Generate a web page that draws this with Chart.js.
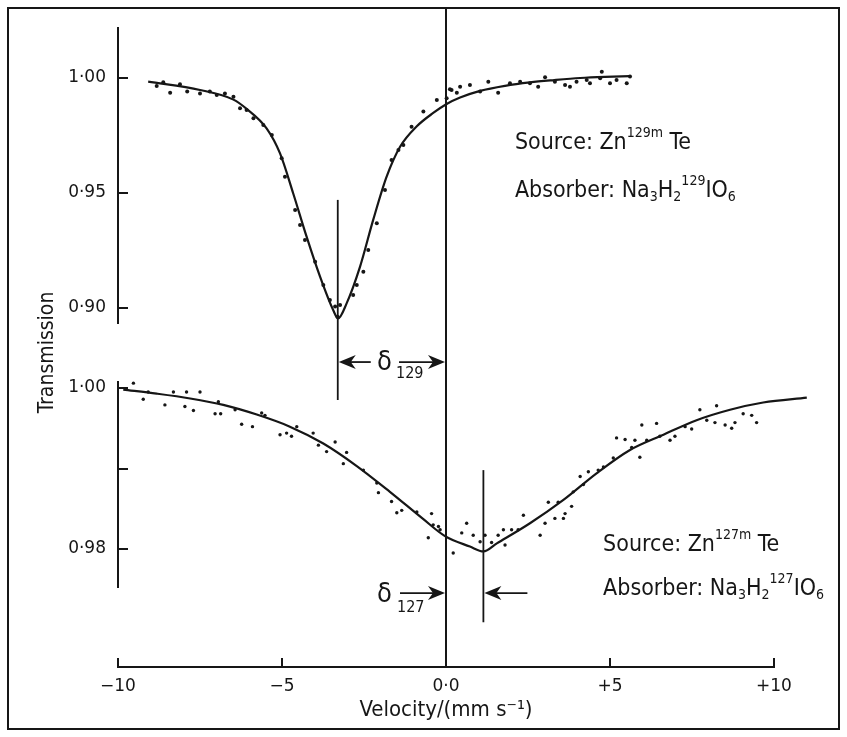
<!DOCTYPE html>
<html>
<head>
<meta charset="utf-8">
<script src="https://cdn.jsdelivr.net/npm/chart.js@4.4.0/dist/chart.umd.min.js"></script>
<style>
  html, body { margin: 0; padding: 0; background: #fff; }
  #wrap { width: 847px; height: 737px; }
</style>
</head>
<body>
<div id="wrap"><canvas id="moss" width="847" height="737"></canvas></div>
<script>
// axis ticks
const velocityTicks = [-10, -5, 0, 5, 10];
const velocityLabels = ['\u221210', '\u22125', '0\u00b70', '+5', '+10'];
const topTicks = [1.00, 0.95, 0.90];
const topTickLabels = ['1\u00b700', '0\u00b795', '0\u00b790'];
const lowTicks = [1.00, 0.99, 0.98];
const lowTickLabels = ['1\u00b700', '', '0\u00b798'];

// 129I spectrum: fitted curve
const topFitV = [-9.08, -7.50, -6.48, -6.08, -5.47, -5.06, -4.66, -4.25, -3.84, -3.44, -3.29, -3.03, -2.62, -2.22, -1.81, -1.40, -0.89, -0.39, 0.02, 0.43, 1.04, 1.80, 2.56, 3.30, 4.09, 4.85, 5.60];
const topFitT = [0.9984, 0.9948, 0.9906, 0.9866, 0.9781, 0.9672, 0.9499, 0.9310, 0.9136, 0.8991, 0.8955, 0.9020, 0.9180, 0.9383, 0.9571, 0.9701, 0.9790, 0.9848, 0.9887, 0.9915, 0.9944, 0.9966, 0.9981, 0.9991, 1.0000, 1.0005, 1.0008];
// 129I spectrum: measured points
const topDotV = [-8.82, -8.62, -8.41, -8.11, -7.89, -7.50, -7.20, -6.99, -6.74, -6.48, -6.28, -6.08, -5.87, -5.57, -5.31, -5.01, -4.91, -4.60, -4.45, -4.30, -3.99, -3.74, -3.54, -3.38, -3.23, -3.31, -2.83, -2.72, -2.52, -2.37, -2.11, -1.86, -1.66, -1.45, -1.30, -1.05, -0.69, -0.28, 0.02, 0.17, 0.33, 0.12, 0.43, 0.73, 1.04, 1.29, 1.59, 1.95, 2.26, 2.56, 2.81, 3.02, 3.32, 3.63, 3.78, 3.98, 4.29, 4.39, 4.70, 4.75, 5.00, 5.20, 5.51, 5.61];
const topDotT = [0.9965, 0.9981, 0.9936, 0.9973, 0.9941, 0.9933, 0.9941, 0.9926, 0.9933, 0.9919, 0.9868, 0.9861, 0.9825, 0.9796, 0.9752, 0.9651, 0.9571, 0.9426, 0.9361, 0.9296, 0.9201, 0.9100, 0.9035, 0.9006, 0.9013, 0.8962, 0.9057, 0.9100, 0.9158, 0.9252, 0.9368, 0.9513, 0.9643, 0.9687, 0.9709, 0.9788, 0.9854, 0.9904, 0.9912, 0.9948, 0.9936, 0.9951, 0.9962, 0.9970, 0.9941, 0.9984, 0.9936, 0.9977, 0.9984, 0.9977, 0.9962, 1.0003, 0.9984, 0.9970, 0.9962, 0.9984, 0.9991, 0.9977, 0.9999, 1.0027, 0.9977, 0.9991, 0.9977, 1.0006];

// 127I spectrum: fitted curve
const lowFitV = [-9.84, -8.82, -7.80, -6.79, -5.77, -4.76, -3.74, -2.72, -1.71, -0.69, -0.03, 0.73, 1.14, 1.55, 2.56, 3.58, 4.59, 5.61, 6.63, 7.64, 8.66, 9.67, 11.0];
const lowFitT = [0.9998, 0.9993, 0.9987, 0.9979, 0.9967, 0.9952, 0.9931, 0.9903, 0.9871, 0.9837, 0.9816, 0.9803, 0.9797, 0.9807, 0.9832, 0.9861, 0.9894, 0.9923, 0.9942, 0.9960, 0.9973, 0.9982, 0.9988];
// 127I spectrum: measured points
const lowDotV = [-9.53, -9.23, -9.08, -8.57, -8.31, -7.91, -7.96, -7.70, -7.50, -6.94, -7.04, -6.87, -6.43, -6.23, -5.90, -5.62, -5.52, -5.06, -4.86, -4.71, -4.55, -4.05, -3.89, -3.64, -3.38, -3.13, -3.03, -2.52, -2.11, -2.06, -1.66, -1.50, -1.35, -0.89, -0.54, -0.44, -0.23, 0.22, 0.48, 0.63, -0.39, -0.18, 0.83, 1.04, 1.19, 1.39, 1.59, 1.80, 1.75, 2.00, 2.20, 2.36, 2.87, 3.02, 3.12, 3.32, 3.42, 3.58, 3.63, 3.83, 3.88, 4.09, 4.19, 4.34, 4.64, 4.80, 5.10, 5.20, 5.46, 5.66, 5.76, 5.91, 5.97, 6.12, 6.42, 6.52, 6.83, 6.98, 7.29, 7.49, 7.74, 7.95, 8.25, 8.20, 8.51, 8.71, 8.81, 9.06, 9.32, 9.47];
const lowDotT = [1.0006, 0.9986, 0.9995, 0.9979, 0.9995, 0.9995, 0.9977, 0.9972, 0.9995, 0.9983, 0.9968, 0.9968, 0.9973, 0.9955, 0.9952, 0.9969, 0.9966, 0.9942, 0.9944, 0.9940, 0.9952, 0.9944, 0.9929, 0.9921, 0.9933, 0.9906, 0.9920, 0.9898, 0.9882, 0.9870, 0.9859, 0.9845, 0.9848, 0.9846, 0.9814, 0.9844, 0.9828, 0.9795, 0.9820, 0.9832, 0.9830, 0.9824, 0.9817, 0.9809, 0.9817, 0.9808, 0.9817, 0.9805, 0.9824, 0.9824, 0.9824, 0.9842, 0.9817, 0.9832, 0.9858, 0.9838, 0.9858, 0.9838, 0.9844, 0.9853, 0.9871, 0.9890, 0.9880, 0.9896, 0.9898, 0.9902, 0.9913, 0.9938, 0.9936, 0.9926, 0.9935, 0.9914, 0.9954, 0.9935, 0.9956, 0.9940, 0.9935, 0.9940, 0.9952, 0.9949, 0.9973, 0.9960, 0.9978, 0.9957, 0.9954, 0.9950, 0.9957, 0.9968, 0.9966, 0.9957];

// line positions of the two absorption minima (δ129, δ127)
const shiftV = [-3.30, 1.14];

const ink = '#161616';
const textFamily = "'Liberation Sans Narrow', 'DejaVu Sans Condensed', 'Liberation Sans', sans-serif";
const tickFont = { family: "'DejaVu Sans', sans-serif", size: 17 };

function pts(xs, ys) {
  return xs.map((x, i) => ({ x: x, y: ys[i] }));
}

function fixWidth(s) {
  s.width = 118;
  s.paddingTop = 0;
  s.paddingBottom = 0;
}

function gapAxis(weight, sw, title) {
  return {
    type: 'linear', position: 'left', stack: 'v', stackWeight: sw, weight: weight,
    min: 0, max: 1,
    afterFit: fixWidth,
    grid: { display: false },
    border: { display: false },
    ticks: { display: false },
    title: title ? {
      display: true, text: title, color: ink,
      font: { family: textFamily, size: 21 },
      padding: { top: 35, bottom: 0 }
    } : { display: false }
  };
}

function valueAxis(weight, sw, min, max, ticks, labels) {
  return {
    type: 'linear', position: 'left', stack: 'v', stackWeight: sw, weight: weight,
    min: min, max: max,
    afterBuildTicks: s => { s.ticks = ticks.map(v => ({ value: v })); },
    afterFit: fixWidth,
    grid: { drawOnChartArea: false, drawTicks: true, tickLength: -10, color: ink, lineWidth: 2 },
    border: { display: true, color: ink, width: 2 },
    ticks: { padding: 22, color: ink, font: tickFont, callback: (v, i) => labels[i] }
  };
}

function drawRich(ctx, x, y, parts, size) {
  let cx = x;
  parts.forEach(([t, k]) => {
    const s = k === 'n' ? size : 14;
    const dy = k === 'sup' ? -12 : (k === 'sub' ? 4 : 0);
    ctx.font = s + 'px ' + textFamily;
    ctx.fillText(t, cx, y + dy);
    cx += ctx.measureText(t).width;
  });
}

function arrowHead(ctx, tipX, y, dir) {
  ctx.beginPath();
  ctx.moveTo(tipX, y);
  ctx.lineTo(tipX - dir * 17, y - 7);
  ctx.lineTo(tipX - dir * 12, y);
  ctx.lineTo(tipX - dir * 17, y + 7);
  ctx.closePath();
  ctx.fill();
}

function hLine(ctx, x1, x2, y) {
  ctx.beginPath();
  ctx.moveTo(x1, y);
  ctx.lineTo(x2, y);
  ctx.stroke();
}

function vLine(ctx, x, y1, y2) {
  ctx.beginPath();
  ctx.moveTo(x, y1);
  ctx.lineTo(x, y2);
  ctx.stroke();
}

const extras = {
  id: 'extras',
  afterDraw(chart) {
    const ctx = chart.ctx;
    const xs = chart.scales.x, yt = chart.scales.yTop, yb = chart.scales.yBot;
    const zero = xs.getPixelForValue(0);
    const x129 = xs.getPixelForValue(shiftV[0]);
    const x127 = xs.getPixelForValue(shiftV[1]);
    ctx.save();
    ctx.strokeStyle = ink;
    ctx.fillStyle = ink;
    ctx.lineWidth = 1.8;

    // minimum markers
    vLine(ctx, x129, yt.getPixelForValue(0.947), yt.getPixelForValue(0.860));
    vLine(ctx, x127, yb.getPixelForValue(0.9898), yb.getPixelForValue(0.9709));

    // δ129 arrows
    const a1 = yt.getPixelForValue(0.8765);
    arrowHead(ctx, x129 + 1, a1, -1);
    hLine(ctx, x129 + 12, x129 + 33, a1);
    hLine(ctx, zero - 47, zero - 12, a1);
    arrowHead(ctx, zero - 1, a1, 1);
    ctx.textAlign = 'left';
    ctx.textBaseline = 'alphabetic';
    ctx.font = '27px ' + textFamily;
    ctx.fillText('\u03b4', zero - 69, a1 + 8);
    ctx.font = '16px ' + textFamily;
    ctx.fillText('129', zero - 50, a1 + 16);

    // δ127 arrows
    const a2 = yb.getPixelForValue(0.97453);
    hLine(ctx, zero - 46, zero - 12, a2);
    arrowHead(ctx, zero - 1, a2, 1);
    arrowHead(ctx, x127 + 1, a2, -1);
    hLine(ctx, x127 + 12, x127 + 44, a2);
    ctx.font = '27px ' + textFamily;
    ctx.fillText('\u03b4', zero - 69, a2 + 9);
    ctx.font = '16px ' + textFamily;
    ctx.fillText('127', zero - 49, a2 + 19);

    // source / absorber captions
    const tx1 = xs.getPixelForValue(2.10);
    drawRich(ctx, tx1, yt.getPixelForValue(0.9691),
      [['Source: Zn', 'n'], ['129m', 'sup'], [' Te', 'n']], 23);
    drawRich(ctx, tx1, yt.getPixelForValue(0.9483),
      [['Absorber: Na', 'n'], ['3', 'sub'], ['H', 'n'], ['2', 'sub'], ['129', 'sup'], ['IO', 'n'], ['6', 'sub']], 23);
    const tx2 = xs.getPixelForValue(4.79);
    drawRich(ctx, tx2, yb.getPixelForValue(0.97975),
      [['Source: Zn', 'n'], ['127m', 'sup'], [' Te', 'n']], 23);
    drawRich(ctx, tx2, yb.getPixelForValue(0.97429),
      [['Absorber: Na', 'n'], ['3', 'sub'], ['H', 'n'], ['2', 'sub'], ['127', 'sup'], ['IO', 'n'], ['6', 'sub']], 23);

    // frame round the figure
    ctx.lineWidth = 2;
    ctx.strokeRect(8, 8, 831, 721);
    ctx.restore();
  }
};

new Chart(
  document.getElementById('moss'),
  {
    type: 'scatter',
    data: {
      datasets: [
        { data: pts(topFitV, topFitT), yAxisID: 'yTop', showLine: true, borderColor: ink, borderWidth: 2.2, pointRadius: 0, cubicInterpolationMode: 'monotone', clip: false },
        { data: pts(topDotV, topDotT), yAxisID: 'yTop', backgroundColor: ink, borderWidth: 0, pointRadius: 2, clip: false },
        { data: pts(lowFitV, lowFitT), yAxisID: 'yBot', showLine: true, borderColor: ink, borderWidth: 2.2, pointRadius: 0, cubicInterpolationMode: 'monotone', clip: false },
        { data: pts(lowDotV, lowDotT), yAxisID: 'yBot', backgroundColor: ink, borderWidth: 0, pointRadius: 1.7, clip: false }
      ]
    },
    options: {
      responsive: false,
      animation: false,
      devicePixelRatio: 1,
      layout: { padding: { left: 0, top: 9, right: 73, bottom: 0 } },
      plugins: { legend: { display: false }, tooltip: { enabled: false } },
      scales: {
        x: {
          type: 'linear', position: 'bottom', min: -10, max: 10,
          afterBuildTicks: s => { s.ticks = velocityTicks.map(v => ({ value: v })); },
          afterFit: s => { s.height = 70; s.paddingLeft = 0; s.paddingRight = 0; },
          grid: {
            drawOnChartArea: true, drawTicks: true, tickLength: -9, lineWidth: 2,
            color: c => (c.tick && c.tick.value === 0) ? ink : 'rgba(0,0,0,0)',
            tickColor: ink
          },
          border: { display: true, color: ink, width: 2 },
          ticks: { padding: 18, color: ink, font: tickFont, maxRotation: 0, autoSkip: false, callback: (v, i) => velocityLabels[i] },
          title: { display: true, text: 'Velocity/(mm s\u207b\u00b9)', color: ink, font: { family: textFamily, size: 22 }, padding: { top: 0, bottom: 14 } }
        },
        gapTop: gapAxis(5, 19),
        yTop: valueAxis(4, 295, 0.89348, 1.02174, topTicks, topTickLabels),
        gapMid: gapAxis(3, 59, 'Transmission'),
        yBot: valueAxis(2, 205, 0.97528, 1.000745, lowTicks, lowTickLabels),
        gapBot: gapAxis(1, 80)
      }
    },
    plugins: [extras]
  }
);
</script>
</body>
</html>
